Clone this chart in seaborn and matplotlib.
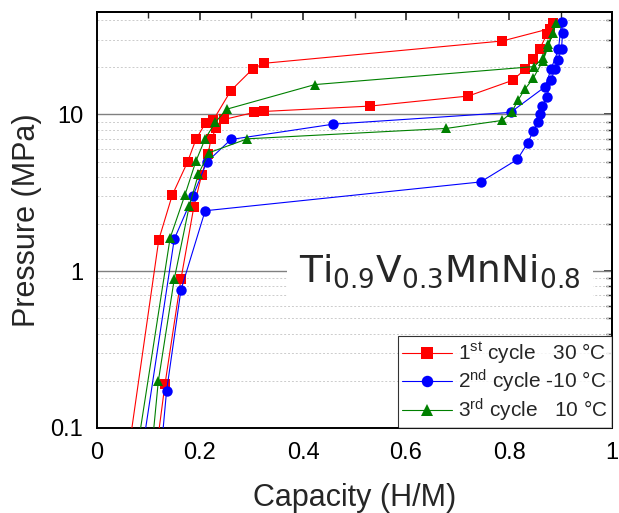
import numpy as np
import pandas as pd
import matplotlib
matplotlib.use("Agg")
import matplotlib.pyplot as plt
import matplotlib.ticker as mtick
import seaborn as sns

# 1st cycle 30 C (absorption then desorption)
cap_1 = [0.045, 0.120, 0.146, 0.176, 0.192, 0.211, 0.226, 0.260, 0.303, 0.325, 0.787, 0.880, 0.886,
         0.874, 0.860, 0.846, 0.831, 0.807, 0.721, 0.530, 0.325, 0.305, 0.247, 0.232, 0.221,
         0.216, 0.203, 0.188, 0.163, 0.132, 0.100]
pres_1 = [0.03, 1.59, 3.05, 4.99, 6.92, 8.85, 9.23, 14.2, 19.6, 21.2, 29.4, 35.3, 38.5,
          32.7, 26.3, 22.7, 19.4, 16.5, 13.1, 11.3, 10.45, 10.3, 9.29, 8.2, 6.92,
          5.61, 4.09, 2.57, 0.89, 0.19, 0.03]

# 2nd cycle -10 C
cap_2 = [0.0705, 0.150, 0.186, 0.213, 0.260, 0.459, 0.803, 0.870, 0.882, 0.896, 0.902,
         0.904, 0.902, 0.896, 0.889, 0.882, 0.873, 0.865, 0.860, 0.856, 0.847, 0.836,
         0.816, 0.745, 0.210, 0.163, 0.135, 0.114]
pres_2 = [0.03, 1.6, 3.0, 4.96, 6.92, 8.67, 10.3, 15.0, 19.6, 26.0, 38.9,
          32.9, 26.3, 22.4, 19.6, 16.5, 12.9, 11.3, 10.1, 8.9, 7.83, 6.53,
          5.16, 3.71, 2.43, 0.76, 0.171, 0.03]

# 3rd cycle 10 C
cap_3 = [0.060, 0.142, 0.171, 0.192, 0.210, 0.230, 0.252, 0.423, 0.849, 0.866, 0.876, 0.892,
         0.885, 0.876, 0.866, 0.847, 0.831, 0.818, 0.805, 0.787, 0.678, 0.292, 0.217,
         0.197, 0.179, 0.150, 0.119, 0.095]
pres_3 = [0.03, 1.63, 3.08, 5.03, 6.99, 8.93, 10.8, 15.5, 20.2, 23.0, 28.0, 38.5,
          33.0, 27.0, 22.0, 17.0, 14.5, 12.4, 10.3, 9.16, 8.14, 6.99, 5.69,
          4.17, 2.59, 0.89, 0.198, 0.03]

labels = ["1$^{st}$ cycle   30 °C", "2$^{nd}$ cycle -10 °C", "3$^{rd}$ cycle   10 °C"]

frames = []
for lab, c, p in zip(labels, [cap_1, cap_2, cap_3], [pres_1, pres_2, pres_3]):
    frames.append(pd.DataFrame({"cap": c, "pres": p, "cycle": lab, "step": range(len(c))}))
df = pd.concat(frames, ignore_index=True)

sns.set_theme(style="white")
plt.rcParams["font.family"] = ["Liberation Sans", "DejaVu Sans"]
plt.rcParams["mathtext.default"] = "regular"

fig = plt.figure(figsize=(6.19, 5.13), dpi=100)
ax = fig.add_axes([0.1567, 0.1657, 0.8320, 0.8109])

ax.set_yscale("log")
ax.set_xlim(0, 1)
ax.set_ylim(0.1, 45)

# grid lines: minor dashed, major solid
ax.yaxis.set_minor_locator(mtick.LogLocator(base=10, subs=np.arange(2, 10)))
ax.yaxis.grid(True, which="minor", linestyle=(0, (2, 2)), color="#cccccc", linewidth=0.7, zorder=0)
ax.yaxis.grid(True, which="major", linestyle="-", color="#808080", linewidth=1.0, zorder=0)
ax.xaxis.grid(False)

pal = {labels[0]: "#ff0000", labels[1]: "#0000ff", labels[2]: "#008000"}
mk = {labels[0]: "s", labels[1]: "o", labels[2]: "^"}
sns.lineplot(data=df, x="cap", y="pres", hue="cycle", style="cycle", units="cycle",
             estimator=None, sort=False, palette=pal, markers=mk, dashes=False,
             markersize=7.5, markeredgewidth=0, linewidth=0.8, ax=ax, zorder=3)

ax.text(0.666, 1.0, "Ti$_{0.9}$V$_{0.3}$MnNi$_{0.8}$", fontsize=27, family="DejaVu Sans",
        ha="center", va="center", zorder=2,
        bbox=dict(facecolor="white", edgecolor="none", pad=9))

ax.xaxis.set_major_locator(mtick.MultipleLocator(0.2))
ax.xaxis.set_minor_locator(mtick.MultipleLocator(0.1))
ax.xaxis.set_major_formatter(mtick.FuncFormatter(lambda v, p: f"{v:g}"))
ax.yaxis.set_major_formatter(mtick.FuncFormatter(lambda v, p: f"{v:g}"))
ax.yaxis.set_minor_formatter(mtick.NullFormatter())

ax.tick_params(axis="both", which="major", direction="out", length=6, width=1.2,
               labelsize=17, colors="black", pad=4)
ax.tick_params(axis="both", which="minor", direction="out", length=4, width=1.0)

# mirrored ticks pointing inward on top and right
top = ax.secondary_xaxis("top")
top.xaxis.set_major_locator(mtick.MultipleLocator(0.2))
top.xaxis.set_minor_locator(mtick.MultipleLocator(0.1))
top.tick_params(which="major", direction="in", length=6, width=1.2, labeltop=False)
top.tick_params(which="minor", direction="in", length=4, width=1.0)
right = ax.secondary_yaxis("right")
right.yaxis.set_minor_locator(mtick.LogLocator(base=10, subs=np.arange(2, 10)))
right.tick_params(which="major", direction="in", length=6, width=1.2, labelright=False)
right.tick_params(which="minor", direction="in", length=4, width=1.0)
right.yaxis.set_minor_formatter(mtick.NullFormatter())

for s in list(ax.spines.values()) + [top.spines["top"], right.spines["right"]]:
    s.set_linewidth(1.4)
    s.set_color("black")

ax.set_xlabel("Capacity (H/M)", fontsize=22, labelpad=14)
ax.set_ylabel("Pressure (MPa)", fontsize=22, labelpad=6)

h, l = ax.get_legend_handles_labels()
leg = ax.legend(h, l, loc="lower right", bbox_to_anchor=(1.0, 0.0), fontsize=15,
                frameon=True, fancybox=False, borderaxespad=0, handlelength=2.4,
                handletextpad=0.3, labelspacing=0.08, borderpad=0.2, markerscale=1.1)
leg.get_frame().set_edgecolor("black")
leg.get_frame().set_linewidth(0.8)
leg.set_zorder(5)

fig.savefig("out.png", dpi=100)
